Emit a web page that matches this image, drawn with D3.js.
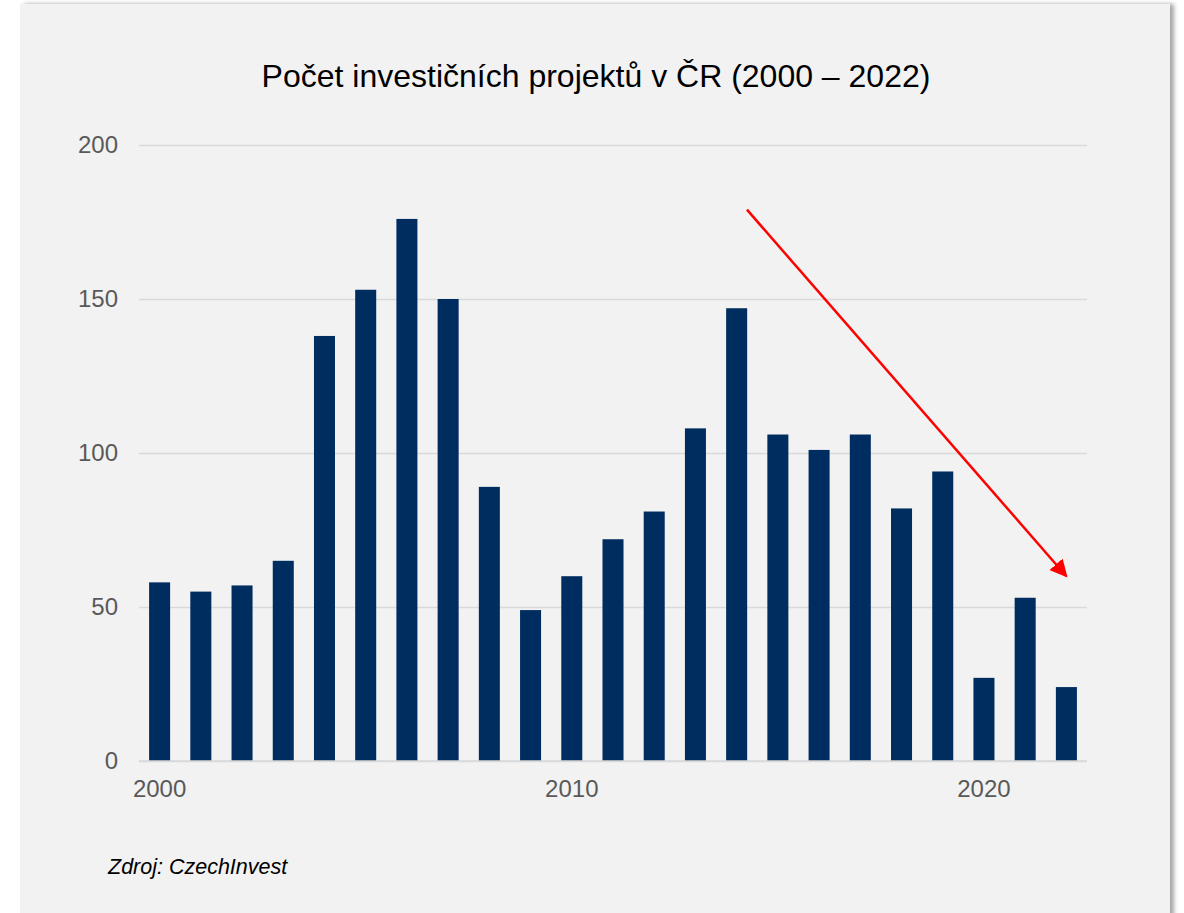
<!DOCTYPE html>
<html>
<head>
<meta charset="utf-8">
<script src="https://cdn.jsdelivr.net/npm/d3@7"></script>
<style>
  body { margin: 0; background: #fff; }
  svg { display: block; }
</style>
</head>
<body>
<div id="chart"></div>
<script>
const years = d3.range(2000, 2023).map(String)
const projects = [58, 55, 57, 65, 138, 153, 176, 150, 89, 49, 60, 72, 81, 108, 147, 106, 101, 106, 82, 94, 27, 53, 24]
const yTicks = [0, 50, 100, 150, 200]
const xLabels = ['2000', '2010', '2020']
const title = 'Počet investičních projektů v ČR (2000 – 2022)'
const source = 'Zdroj: CzechInvest'
// trend arrow, in [year, value]
const arrow = [[2014.25, 179], [2022, 60]]

const W = 1184
const H = 913
const plotL = 139
const plotR = 1087
const plotT = 145
const plotB = 761

const svg = d3.select('#chart').append('svg')
  .attr('width', W)
  .attr('height', H)

const defs = svg.append('defs')
const f = defs.append('filter').attr('id', 'shadow')
  .attr('x', '-5%').attr('y', '-5%').attr('width', '110%').attr('height', '110%')
f.append('feDropShadow')
  .attr('dx', 4).attr('dy', 0).attr('stdDeviation', 2)
  .attr('flood-color', '#000').attr('flood-opacity', 0.35)

defs.append('marker')
  .attr('id', 'head')
  .attr('viewBox', '0 0 10 10')
  .attr('refX', 9).attr('refY', 5)
  .attr('markerWidth', 7).attr('markerHeight', 7)
  .attr('markerUnits', 'strokeWidth')
  .attr('orient', 'auto')
  .append('path')
  .attr('d', 'M0,0 L10,5 L0,10 z')
  .attr('fill', '#ff0000')

svg.append('rect')
  .attr('x', 20).attr('y', 4)
  .attr('width', 1150).attr('height', 920)
  .attr('fill', '#f2f2f2')
  .attr('filter', 'url(#shadow)')

const x = d3.scaleBand()
  .domain(years)
  .range([plotL, plotR])
  .paddingInner(0.49)
  .paddingOuter(0.245)

const y = d3.scaleLinear()
  .domain([0, 200])
  .range([plotB, plotT])

const xl = d3.scaleLinear()
  .domain([2000, 2022])
  .range([x('2000') + x.bandwidth() / 2, x('2022') + x.bandwidth() / 2])

svg.append('text')
  .attr('x', 596).attr('y', 87)
  .attr('text-anchor', 'middle')
  .attr('font-family', 'Liberation Sans, Arial, sans-serif')
  .attr('font-size', 32)
  .attr('fill', '#000')
  .text(title)

const yAxis = d3.axisLeft(y)
  .tickValues(yTicks)
  .tickSize(-(plotR - plotL))
  .tickPadding(21)

const $y = svg.append('g')
  .attr('transform', `translate(${plotL},0)`)
  .call(yAxis)
$y.select('.domain').remove()
$y.selectAll('line').attr('stroke', '#d9d9d9').attr('stroke-width', 1.5)
$y.selectAll('text')
  .attr('font-family', 'Liberation Sans, Arial, sans-serif')
  .attr('font-size', 24)
  .attr('fill', '#595959')

svg.append('g')
  .selectAll('rect')
  .data(projects)
  .join('rect')
  .attr('x', (d, i) => x(years[i]))
  .attr('y', d => y(d))
  .attr('width', x.bandwidth())
  .attr('height', d => y(0) - y(d))
  .attr('fill', '#002d5f')

const xAxis = d3.axisBottom(x)
  .tickValues(xLabels)
  .tickSize(0)
  .tickPadding(19)

const $x = svg.append('g')
  .attr('transform', `translate(0,${plotB})`)
  .call(xAxis)
$x.select('.domain')
  .attr('stroke', '#d9d9d9').attr('stroke-width', 1.5)
  .attr('d', `M${plotL},0H${plotR}`)
$x.selectAll('text')
  .attr('font-family', 'Liberation Sans, Arial, sans-serif')
  .attr('font-size', 24)
  .attr('fill', '#595959')

svg.append('line')
  .attr('x1', xl(arrow[0][0])).attr('y1', y(arrow[0][1]))
  .attr('x2', xl(arrow[1][0])).attr('y2', y(arrow[1][1]))
  .attr('stroke', '#ff0000')
  .attr('stroke-width', 2.5)
  .attr('marker-end', 'url(#head)')

svg.append('text')
  .attr('x', 108).attr('y', 874)
  .attr('font-family', 'Liberation Sans, Arial, sans-serif')
  .attr('font-size', 21.5)
  .attr('font-style', 'italic')
  .attr('fill', '#000')
  .text(source)
</script>
</body>
</html>
